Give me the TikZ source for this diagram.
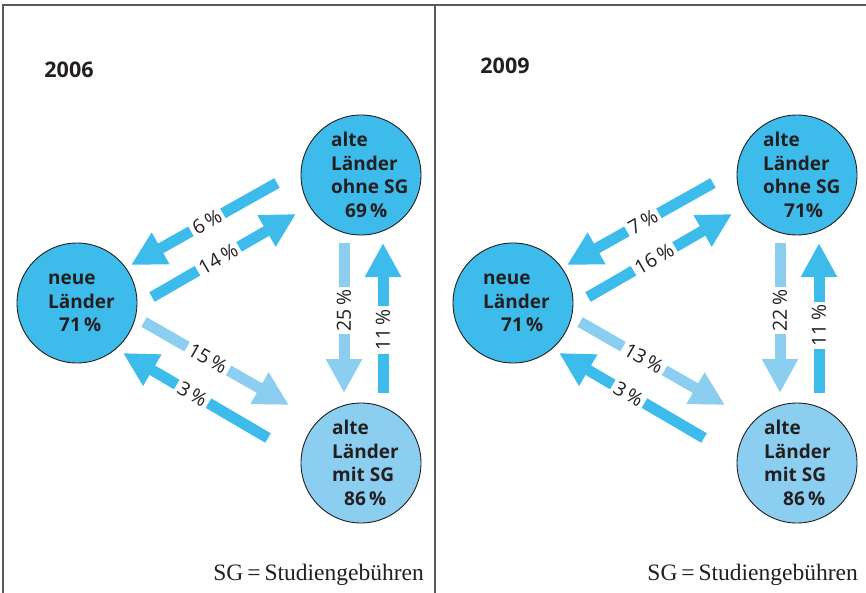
\documentclass[tikz,border=0pt]{standalone}
\usepackage{fontspec}
\setmainfont{Open Sans}
\newfontfamily\legendfont{Liberation Serif}
\usetikzlibrary{arrows.meta}
\definecolor{dkblue}{HTML}{3DBCEC}
\definecolor{ltblue}{HTML}{8CCEF0}
\definecolor{txt}{HTML}{231F20}
\definecolor{framecol}{HTML}{5A5A5A}
\begin{document}
\begin{tikzpicture}[x=1pt,y=-1pt,
  circ/.style={circle, draw=txt, line width=0.9pt, minimum size=120pt, inner sep=0pt},
  dcirc/.style={circ, fill=dkblue},
  lcirc/.style={circ, fill=ltblue},
  ctext/.style={anchor=west, inner sep=0pt, align=left, text=txt, font=\fontsize{19}{23.5}\selectfont\bfseries},
  flow/.style={line width=11pt, -{Triangle[width=34pt,length=34pt]}},
  dflow/.style={flow, draw=dkblue},
  lflow/.style={flow, draw=ltblue},
  pct/.style={fill=white, inner xsep=3pt, inner ysep=0pt, font=\fontsize{19.5}{19.5}\selectfont, text=txt},
  year/.style={font=\fontsize{21.5}{21.5}\selectfont\bfseries, text=txt},
  legend/.style={anchor=base east, inner sep=0pt, font=\legendfont\fontsize{23.5}{23.5}\selectfont, text=txt},
  framel/.style={draw=framecol, line width=1.5pt}
]
\useasboundingbox (0,0) rectangle (866,593);
% frame
\draw[framel] (3,593) -- (3,5) -- (866,5);
\draw[framel] (435,5) -- (435,593);

% ---------------- 2006 ----------------
\node[year] (y1) at (69,70) {2006};
\node[dcirc] (nl1) at (77,303) {};
\node[dcirc] (ao1) at (361,175) {};
\node[lcirc] (am1) at (361,463) {};
\node[ctext] (nl1t) at (48,303) {neue\\Länder\\\hspace*{11pt}71\,\%};
\node[ctext] (ao1t) at (331,175) {alte\\Länder\\ohne SG\\\hspace*{14pt}69\,\%};
\node[ctext] (am1t) at (332,463) {alte\\Länder\\mit SG\\\hspace*{12pt}86\,\%};

\coordinate (a1s) at (277,183); \coordinate (a1e) at (131,265);
\coordinate (b1s) at (152,297); \coordinate (b1e) at (296,214);
\coordinate (c1s) at (144,322); \coordinate (c1e) at (289,405);
\coordinate (d1s) at (268,438); \coordinate (d1e) at (123,353);
\coordinate (e1s) at (344,243); \coordinate (e1e) at (344,393);
\coordinate (f1s) at (383,393); \coordinate (f1e) at (383,243);

\draw[dflow] (a1s) -- (a1e) node[pct, sloped, pos=0.48] (a1l) {6\,\%};
\draw[dflow] (b1s) -- (b1e) node[pct, sloped, pos=0.46] (b1l) {14\,\%};
\draw[lflow] (c1s) -- (c1e) node[pct, sloped, pos=0.44] (c1l) {15\,\%};
\draw[dflow] (d1s) -- (d1e) node[pct, sloped, pos=0.52] (d1l) {3\,\%};
\draw[lflow] (e1s) -- (e1e) node[pct, rotate=90, pos=0.45] (e1l) {25\,\%};
\draw[dflow] (f1s) -- (f1e) node[pct, rotate=90, pos=0.42] (f1l) {11\,\%};

\node[legend] (lg1) at (424,580) {SG\,=\,Studiengebühren};

% ---------------- 2009 ----------------
\node[year] (y2) at (505,66) {2009};
\node[dcirc] (nl2) at (513,303) {};
\node[dcirc] (ao2) at (797,175) {};
\node[lcirc] (am2) at (797,463) {};
\node[ctext] (nl2t) at (483,303) {neue\\Länder\\\hspace*{18pt}71\,\%};
\node[ctext] (ao2t) at (763,175) {alte\\Länder\\ohne SG\\\hspace*{21pt}71\%};
\node[ctext] (am2t) at (764,463) {alte\\Länder\\mit SG\\\hspace*{19pt}86\,\%};

\coordinate (a2s) at (713,183); \coordinate (a2e) at (567,265);
\coordinate (b2s) at (588,297); \coordinate (b2e) at (732,214);
\coordinate (c2s) at (580,322); \coordinate (c2e) at (725,405);
\coordinate (d2s) at (704,438); \coordinate (d2e) at (559,353);
\coordinate (e2s) at (780,243); \coordinate (e2e) at (780,393);
\coordinate (f2s) at (819,393); \coordinate (f2e) at (819,243);

\draw[dflow] (a2s) -- (a2e) node[pct, sloped, pos=0.48] (a2l) {7\,\%};
\draw[dflow] (b2s) -- (b2e) node[pct, sloped, pos=0.46] (b2l) {16\,\%};
\draw[lflow] (c2s) -- (c2e) node[pct, sloped, pos=0.44] (c2l) {13\,\%};
\draw[dflow] (d2s) -- (d2e) node[pct, sloped, pos=0.52] (d2l) {3\,\%};
\draw[lflow] (e2s) -- (e2e) node[pct, rotate=90, pos=0.45] (e2l) {22\,\%};
\draw[dflow] (f2s) -- (f2e) node[pct, rotate=90, pos=0.45] (f2l) {11\,\%};

\node[legend] (lg2) at (858,580) {SG\,=\,Studiengebühren};
\end{tikzpicture}
\end{document}
